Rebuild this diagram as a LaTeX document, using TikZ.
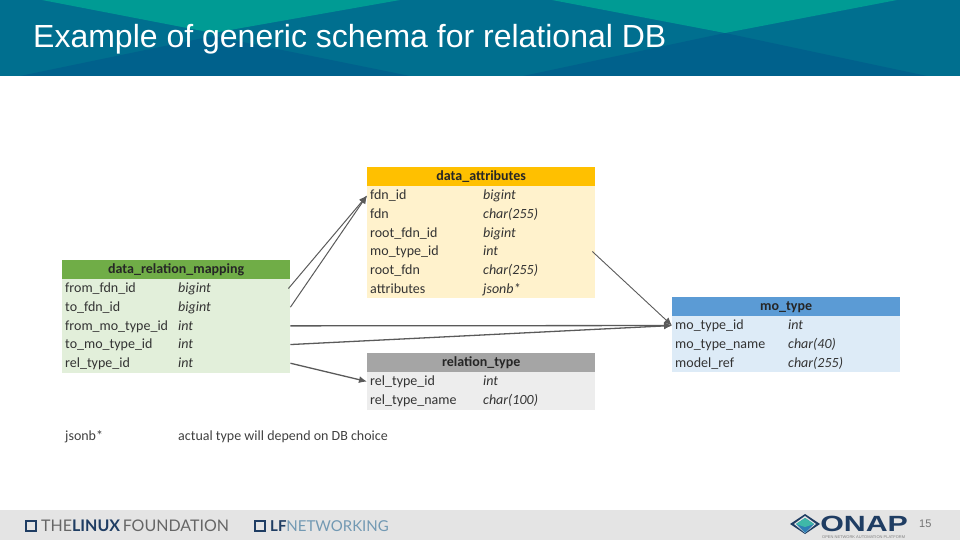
\documentclass[tikz,border=0pt]{standalone}
\usepackage{fontspec}
\usepackage{tikz}
\usetikzlibrary{positioning,arrows.meta}
\setmainfont{Carlito}
\newfontfamily\titlefont{Liberation Sans}
\newfontfamily\logofont{Lato}
\definecolor{bandbase}{HTML}{006F8F}
\definecolor{bandteal}{HTML}{009B94}
\definecolor{bandblue}{HTML}{00618C}
\definecolor{footgrey}{HTML}{E4E4E4}
\definecolor{linkgrey}{HTML}{5A5A5A}
\definecolor{logonavy}{HTML}{1F3D63}
\definecolor{logoblue}{HTML}{2F7FB5}
\definecolor{logoteal}{HTML}{3FB8A8}
\tikzset{
    tablehead/.style={minimum width=228pt,minimum height=19pt,inner sep=0pt,text height=10pt,text depth=2pt,
        font=\fontsize{14}{14}\selectfont\bfseries,text=black!85},
    tablerow/.style={minimum width=228pt,minimum height=18.67pt,inner sep=0pt,text height=10pt,text depth=1.4pt,
        text width=222pt,align=left,font=\fontsize{14}{14}\selectfont,text=black!80},
    typetext/.style={inner sep=0pt,anchor=base west,font=\fontsize{14}{14}\selectfont\itshape,text=black!80},
    link/.style={draw=linkgrey,line width=1.3pt,-{Latex[length=8pt,width=7pt]}},
}
\begin{document}
\begin{tikzpicture}[x=1pt,y=-1pt]
    \useasboundingbox (0,0) rectangle (960,540);
    % title band
    \fill[bandbase] (0,0) rectangle (960,76);
    \fill[bandteal] (42,0) -- (400,0) -- (213,33) -- cycle;
    \fill[bandteal] (552,0) -- (897,0) -- (725,33) -- cycle;
    \fill[bandblue] (20,76) -- (213,36) -- (410,76) -- cycle;
    \fill[bandblue] (523,76) -- (725,33) -- (927,76) -- cycle;
    \node[anchor=base west,inner sep=0pt,text=white,font=\titlefont\fontsize{32}{32}\selectfont]
        (title) at (33,47.5) {Example of generic schema for relational DB};

    % footer
    \fill[footgrey] (0,510) rectangle (960,540);
    \draw[logonavy,line width=2pt] (26,521) rectangle (36,531);
    \node[anchor=base west,inner sep=0pt,text=logonavy,font=\logofont\fontsize{16}{16}\selectfont]
        (lflogo) at (41,531) {\textcolor{black!60}{THE}\textbf{LINUX}\,\textcolor{black!60}{FOUNDATION}};
    \draw[logonavy,line width=2pt] (255,521) rectangle (265,531);
    \node[anchor=base west,inner sep=0pt,text=logonavy,font=\logofont\fontsize{15}{15}\selectfont]
        (lfnet) at (270,531) {\textbf{LF}\textcolor{logoblue!60!gray!80}{NETWORKING}};
    \fill[logonavy] (790,524) -- (805,514) -- (820,524) -- (805,534) -- cycle;
    \fill[footgrey] (794,524) -- (805,516) -- (816,524) -- (805,533) -- cycle;
    \fill[logoblue] (796,524) -- (805,518) -- (814,524) -- (805,533) -- cycle;
    \fill[logoteal] (796,524) -- (805,518) -- (814,524) -- (805,527) -- cycle;
    \node[anchor=base west,inner sep=0pt,text=logonavy,font=\titlefont\fontsize{22}{22}\selectfont\bfseries,
        xscale=1.38] (onap) at (820,531) {ONAP};
    \node[anchor=base west,inner sep=0pt,text=black!50,font=\titlefont\fontsize{4}{4}\selectfont]
        (onapsub) at (822,538.5) {OPEN NETWORK AUTOMATION PLATFORM};
    \node[anchor=base west,inner sep=0pt,text=black!55,font=\titlefont\fontsize{11}{11}\selectfont]
        (pagenum) at (919,527) {15};

    % data_attributes
    \node[tablehead,anchor=north west,fill={rgb,255:red,255;green,192;blue,0}] (attrhead) at (367,167) {data\_attributes};
    \foreach \nm/\ty [count=\i] in {fdn\_id/bigint,fdn/char(255),root\_fdn\_id/bigint,mo\_type\_id/int,root\_fdn/char(255),attributes/jsonb*}
    {
        \node[tablerow,anchor=north west,fill={rgb,255:red,255;green,242;blue,204}] (attr\i) at (367,186+18.67*\i-18.67) {\nm};
        \node[typetext] (attrty\i) at ([xshift=116pt]attr\i.base west) {\ty};
    }

    % data_relation_mapping
    \node[tablehead,anchor=north west,fill={rgb,255:red,112;green,173;blue,71}] (maphead) at (62,260) {data\_relation\_mapping};
    \foreach \nm/\ty [count=\i] in {from\_fdn\_id/bigint,to\_fdn\_id/bigint,from\_mo\_type\_id/int,to\_mo\_type\_id/int,rel\_type\_id/int}
    {
        \node[tablerow,anchor=north west,fill={rgb,255:red,226;green,239;blue,218}] (map\i) at (62,279+18.67*\i-18.67) {\nm};
        \node[typetext] (mapty\i) at ([xshift=116pt]map\i.base west) {\ty};
    }

    % relation_type
    \node[tablehead,anchor=north west,fill={rgb,255:red,165;green,165;blue,165}] (relhead) at (367,353) {relation\_type};
    \foreach \nm/\ty [count=\i] in {rel\_type\_id/int,rel\_type\_name/char(100)}
    {
        \node[tablerow,anchor=north west,fill={rgb,255:red,237;green,237;blue,237}] (rel\i) at (367,372+18.67*\i-18.67) {\nm};
        \node[typetext] (relty\i) at ([xshift=116pt]rel\i.base west) {\ty};
    }

    % mo_type
    \node[tablehead,anchor=north west,fill={rgb,255:red,91;green,155;blue,213}] (mohead) at (672,297) {mo\_type};
    \foreach \nm/\ty [count=\i] in {mo\_type\_id/int,mo\_type\_name/char(40),model\_ref/char(255)}
    {
        \node[tablerow,anchor=north west,fill={rgb,255:red,221;green,235;blue,247}] (mo\i) at (672,316+18.67*\i-18.67) {\nm};
        \node[typetext] (moty\i) at ([xshift=116pt]mo\i.base west) {\ty};
    }

    % note under the tables
    \node[anchor=base west,inner sep=0pt,font=\fontsize{14}{14}\selectfont,text=black!75] (notekey) at (65,440) {jsonb*};
    \node[anchor=base west,inner sep=0pt,font=\fontsize{14}{14}\selectfont,text=black!75] (notetext) at (178,440) {actual type will depend on DB choice};

    % links
    \draw[link,line width=1pt] ([xshift=-2pt]map1.east) -- (attr1.west);
    \draw[link,line width=1pt] (map2.east) -- (attr1.west);
    \draw[link] (map3.east) -- (mo1.west);
    \draw[link] (map4.east) -- (mo1.west);
    \draw[link] (map5.east) -- (rel1.west);
    \draw[link,line width=0.9pt] ([xshift=-3pt]attr4.east) -- (mo1.west);
\end{tikzpicture}
\end{document}
